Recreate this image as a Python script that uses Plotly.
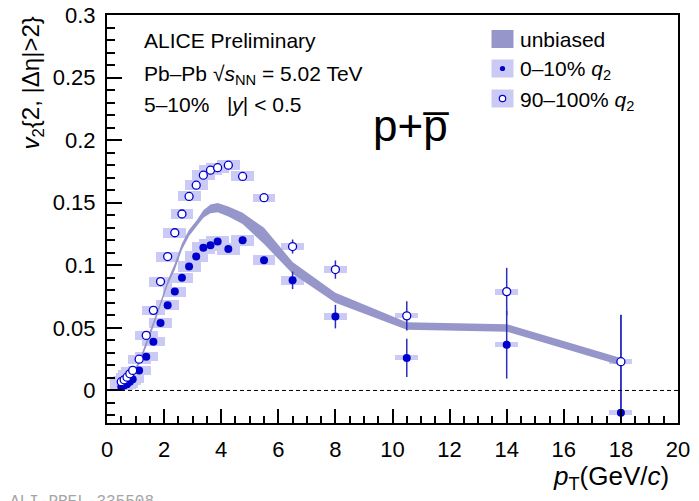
import plotly.graph_objects as go

# ---------------- data ----------------
pt = [0.5, 0.6, 0.7, 0.8, 0.9, 1.125, 1.375, 1.625, 1.875, 2.125, 2.375, 2.625,
      2.875, 3.125, 3.375, 3.625, 3.875, 4.25, 4.75, 5.5, 6.5, 8.0, 10.5, 14.0, 18.0]

# 90-100% q2 (open circles)
v2_high = [0.007, 0.0085, 0.0106, 0.0133, 0.016, 0.025, 0.044, 0.064, 0.087, 0.107,
           0.126, 0.141, 0.155, 0.164, 0.172, 0.176, 0.178, 0.180, 0.171, 0.154,
           0.115, 0.0966, 0.0596, 0.079, 0.023]
stat_high = [0.0005, 0.0005, 0.0005, 0.0005, 0.0005, 0.0008, 0.001, 0.001, 0.001, 0.0012,
             0.0012, 0.0013, 0.0014, 0.0015, 0.0016, 0.0017, 0.0018, 0.002, 0.0022, 0.003,
             0.0056, 0.0073, 0.0116, 0.019, 0.0375]
sys_high = [0.003, 0.003, 0.003, 0.003, 0.003, 0.0035, 0.0035, 0.0035, 0.004, 0.004,
            0.004, 0.004, 0.004, 0.004, 0.004, 0.004, 0.004, 0.004, 0.004, 0.0033,
            0.0025, 0.0027, 0.002, 0.0024, 0.002]

# 0-10% q2 (filled circles)
v2_low = [0.003, 0.004, 0.005, 0.007, 0.009, 0.016, 0.027, 0.039, 0.054, 0.068,
          0.079, 0.090, 0.099, 0.107, 0.114, 0.116, 0.119, 0.113, 0.120, 0.104,
          0.088, 0.059, 0.026, 0.0365, -0.0178]
stat_low = [0.0005, 0.0005, 0.0005, 0.0005, 0.0005, 0.0008, 0.001, 0.001, 0.001, 0.0012,
            0.0012, 0.0013, 0.0014, 0.0015, 0.0016, 0.0017, 0.0018, 0.002, 0.003, 0.003,
            0.007, 0.0094, 0.0153, 0.027, 0.078]
sys_low = [0.003, 0.003, 0.003, 0.003, 0.003, 0.0035, 0.0035, 0.0035, 0.004, 0.004,
           0.004, 0.004, 0.0045, 0.0045, 0.0047, 0.0047, 0.0047, 0.0045, 0.0045, 0.004,
           0.0036, 0.0027, 0.002, 0.002, 0.002]

# unbiased band
v2_unbiased = [0.004, 0.006, 0.008, 0.011, 0.014, 0.022, 0.037, 0.053, 0.069, 0.086,
               0.099, 0.115, 0.126, 0.133, 0.141, 0.145, 0.146, 0.143, 0.1375, 0.1235,
               0.098, 0.074, 0.0516, 0.050, 0.023]
err_unbiased = [0.0012, 0.0012, 0.0012, 0.0012, 0.0012, 0.0015, 0.002, 0.002, 0.002, 0.002,
                0.0025, 0.0025, 0.0025, 0.0025, 0.003, 0.0035, 0.0037, 0.004, 0.0045, 0.0065,
                0.0047, 0.004, 0.003, 0.003, 0.003]

legend_labels = ["unbiased", "0\u201310% <i>q</i><sub>2</sub>", "90\u2013100% <i>q</i><sub>2</sub>"]

box_halfwidth = 0.4  # systematic box half-width in pT (GeV/c)

FONT = "Liberation Sans, Arial, sans-serif"
BOX = "rgb(202,202,244)"
BAND = "rgb(150,150,202)"
BLUE = "rgb(0,0,205)"
ERR = "rgb(45,45,190)"

# page has an 8px body margin; lay the figure out in window pixels
OFF = 8
FW, FH = 699 - OFF, 501 - OFF
L, T, W, H = 107 - OFF, 15 - OFF, 571, 408


def px2paper(px, py):
    """window pixel -> paper coords"""
    return ((px - OFF) - L) / W, (T + H - (py - OFF)) / H


fig = go.Figure()

# systematic boxes
for vals, sys in ((v2_high, sys_high), (v2_low, sys_low)):
    fig.add_trace(go.Bar(
        x=pt, y=[2 * s for s in sys], base=[v - s for v, s in zip(vals, sys)],
        width=[2 * box_halfwidth] * len(pt), marker=dict(color=BOX, line=dict(width=0)),
        showlegend=False, hoverinfo="skip"))

# unbiased band
upper = [v + e for v, e in zip(v2_unbiased, err_unbiased)]
lower = [v - e for v, e in zip(v2_unbiased, err_unbiased)]
fig.add_trace(go.Scatter(
    x=pt + pt[::-1], y=upper + lower[::-1], fill="toself", fillcolor=BAND,
    line=dict(width=0, color=BAND), mode="lines", name=legend_labels[0], showlegend=False))

# points
fig.add_trace(go.Scatter(
    x=pt, y=v2_low, mode="markers", name=legend_labels[1], showlegend=False,
    marker=dict(symbol="circle", size=8, color=BLUE, line=dict(width=0)),
    error_y=dict(type="data", array=stat_low, color=ERR, thickness=1.5, width=0)))
fig.add_trace(go.Scatter(
    x=pt, y=v2_high, mode="markers", name=legend_labels[2], showlegend=False,
    marker=dict(symbol="circle", size=8, color="white", line=dict(width=1.3, color=BLUE)),
    error_y=dict(type="data", array=stat_high, color=ERR, thickness=1.5, width=0)))

# zero line
fig.add_hline(y=0, line=dict(color="black", width=1, dash="4px,3px"))

# ---- legend (drawn in paper coordinates) ----
rows_cy = [39.0, 68.5, 98.5]
key_x0, key_x1 = 491.5, 513.5
for i, cy in enumerate(rows_cy):
    x0, y0 = px2paper(key_x0, cy + 9)
    x1, y1 = px2paper(key_x1, cy - 9)
    fig.add_shape(type="rect", xref="paper", yref="paper", x0=x0, x1=x1, y0=y0, y1=y1,
                  fillcolor=BAND if i == 0 else BOX, line=dict(width=0), layer="above")
# dot and open circle keys
for i, (r, fill, lw) in enumerate([(2.6, BLUE, 0), (3.2, "white", 1.2)]):
    cy = rows_cy[i + 1]
    cx = (key_x0 + key_x1) / 2
    x0, y0 = px2paper(cx - r, cy + r)
    x1, y1 = px2paper(cx + r, cy - r)
    fig.add_shape(type="circle", xref="paper", yref="paper", x0=x0, x1=x1, y0=y0, y1=y1,
                  fillcolor=fill, line=dict(width=lw, color=BLUE), layer="above")

axis_common = dict(showline=True, linewidth=2, linecolor="black", mirror=True,
                   showgrid=False, zeroline=False, ticks="inside", tickwidth=1.5,
                   tickcolor="black", automargin=False, ticklabeloverflow="allow",
                   tickfont=dict(family=FONT, size=22, color="black"))

fig.update_xaxes(range=[0, 20], dtick=2, tick0=0, ticklen=14, ticklabelstandoff=6,
                 minor=dict(dtick=0.5, ticklen=7, ticks="inside", tickwidth=1.5, tickcolor="black"),
                 **axis_common)
fig.update_yaxes(range=[-0.026, 0.3], dtick=0.05, tick0=0, ticklen=15, ticklabelstandoff=5,
                 minor=dict(dtick=0.01, ticklen=8, ticks="inside", tickwidth=1.5, tickcolor="black"),
                 **axis_common)

ann_font = dict(family=FONT, size=21, color="black")


def ann(text, px, py, **kw):
    x, y = px2paper(px, py)
    d = dict(text=text, x=x, y=y, xref="paper", yref="paper", showarrow=False,
             xanchor="left", yanchor="middle", font=ann_font)
    d.update(kw)
    return d


annotations = [
    ann("ALICE Preliminary", 142, 40),
    ann("Pb\u2013Pb \u221a<i>s</i><sub>NN</sub> = 5.02 TeV", 142, 75),
    ann("5\u201310%   |<i>y</i>| &lt; 0.5", 142, 104),
    ann("p+p\u0305", 411, 125, xanchor="center",
        font=dict(family=FONT, size=44, color="black")),
    ann("<i>v</i><sub>2</sub>{2, |\u0394\u03b7|>2}", 32, 15, xanchor="center", yanchor="top",
        textangle=-90, font=dict(family=FONT, size=24, color="black")),
    ann("<i>p</i><sub>T</sub>(GeV/<i>c</i>)", 671, 477, xanchor="right",
        font=dict(family=FONT, size=26, color="black")),
    ann("ALI-PREL-335508", 8, 502, yanchor="middle",
        font=dict(family="Liberation Mono, monospace", size=16, color="rgb(165,165,165)")),
]
for i, (lab, cy) in enumerate(zip(legend_labels, rows_cy)):
    annotations.append(ann(lab, 518, cy + (2 if i else 0)))

fig.update_layout(
    width=FW, height=FH,
    margin=dict(l=L, r=FW - L - W, t=T, b=FH - T - H, autoexpand=False),
    paper_bgcolor="white", plot_bgcolor="white",
    barmode="overlay", bargap=0,
    showlegend=False,
    annotations=annotations,
    font=dict(family=FONT),
)

fig.write_html("out.html")
